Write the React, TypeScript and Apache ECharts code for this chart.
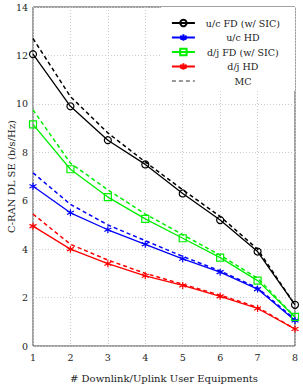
import React, { useEffect, useRef } from "react";
import * as echarts from "echarts";

const categories = [1, 2, 3, 4, 5, 6, 7, 8];
const ucFD = [12.05, 9.9, 8.5, 7.5, 6.3, 5.2, 3.9, 1.7];
const ucFDMC = [12.7, 10.3, 8.8, 7.6, 6.45, 5.35, 4.0, 1.7];
const ucHD = [6.6, 5.5, 4.8, 4.2, 3.6, 3.05, 2.35, 1.05];
const ucHDMC = [7.15, 5.85, 5.0, 4.35, 3.7, 3.1, 2.4, 1.1];
const djFD = [9.15, 7.3, 6.15, 5.25, 4.45, 3.65, 2.7, 1.2];
const djFDMC = [9.75, 7.55, 6.45, 5.45, 4.6, 3.75, 2.8, 1.2];
const djHD = [4.95, 4.0, 3.4, 2.9, 2.5, 2.05, 1.55, 0.7];
const djHDMC = [5.45, 4.2, 3.55, 3.0, 2.55, 2.1, 1.6, 0.7];
const yTicks = [0, 2, 4, 6, 8, 10, 12, 14];

const FONT = "DejaVu Serif";
const STAR = "path://M5,0L5,10M0.67,2.5L9.33,7.5M0.67,7.5L9.33,2.5";

const pts = (arr: number[]) => arr.map((v, i) => [categories[i], v]);

export default function App() {
  const ref = useRef<HTMLDivElement>(null);
  useEffect(() => {
    const chart = echarts.init(ref.current!, undefined, { renderer: "svg" });
    const solid = (name: string, data: number[], color: string, symbol: string, size: number, hollow: boolean) => ({
      name,
      type: "line",
      data: pts(data),
      symbol,
      symbolSize: size,
      showSymbol: true,
      lineStyle: { color, width: 1.3 },
      itemStyle: { color: hollow ? "rgba(255,255,255,0)" : color, borderColor: color, borderWidth: 1.2 },
      z: 3,
    });
    const dashed = (data: number[], color: string) => ({
      name: "",
      type: "line",
      data: pts(data),
      symbol: "none",
      lineStyle: { color, width: 1.5, type: [4, 3] },
      z: 2,
    });
    chart.setOption({
      animation: false,
      grid: {
        left: 33,
        right: 8,
        top: 7,
        bottom: 42,
        outerBoundsMode: "none",
        containLabel: false,
        show: true,
        borderColor: "#444",
        borderWidth: 1,
        backgroundColor: "transparent",
      },
      xAxis: {
        type: "value",
        min: 1,
        max: 8,
        interval: 1,
        name: "# Downlink/Uplink User Equipments",
        nameLocation: "middle",
        nameGap: 27,
        nameMoveOverlap: false,
        nameTextStyle: { fontFamily: FONT, fontSize: 10, color: "#222", verticalAlign: "top" },
        axisLine: { show: false },
        axisTick: { show: false },
        axisLabel: { fontFamily: FONT, fontSize: 9.5, color: "#222", margin: 6 },
        splitLine: { show: true, lineStyle: { color: "#ccc", type: [1, 2] } },
      },
      yAxis: {
        type: "value",
        min: yTicks[0],
        max: yTicks[yTicks.length - 1],
        interval: 2,
        name: "C-RAN DL SE (b/s/Hz)",
        nameLocation: "middle",
        nameGap: 17,
        nameMoveOverlap: false,
        nameTextStyle: { fontFamily: FONT, fontSize: 10, color: "#222" },
        axisLine: { show: false },
        axisTick: { show: false },
        axisLabel: { fontFamily: FONT, fontSize: 9.5, color: "#222", margin: 5 },
        splitLine: { show: true, lineStyle: { color: "#ccc", type: [1, 2] } },
      },
      legend: {
        orient: "vertical",
        right: 8,
        top: 7,
        padding: [11, 15, 5, 10],
        backgroundColor: "#fff",
        itemWidth: 23,
        itemHeight: 8,
        itemGap: 4.5,
        data: [
          "u/c FD (w/ SIC)",
          "u/c HD",
          "d/j FD (w/ SIC)",
          "d/j HD",
          { name: "MC", itemStyle: { opacity: 0 } },
        ],
        formatter: (name: string) => `{a|${name}}`,
        textStyle: {
          fontFamily: FONT,
          fontSize: 9.5,
          color: "#222",
          rich: { a: { width: 86, align: "center", fontFamily: FONT, fontSize: 9.5, color: "#222" } },
        },
      },
      series: [
        dashed(ucFDMC, "#000"),
        dashed(ucHDMC, "#0000ff"),
        dashed(djFDMC, "#00ee00"),
        dashed(djHDMC, "#ff0000"),
        solid("u/c FD (w/ SIC)", ucFD, "#000", "circle", 7, true),
        solid("u/c HD", ucHD, "#0000ff", STAR, 7, false),
        solid("d/j FD (w/ SIC)", djFD, "#00ee00", "rect", 7, true),
        solid("d/j HD", djHD, "#ff0000", STAR, 7, false),
        {
          name: "MC",
          type: "line",
          data: [],
          symbol: "none",
          showSymbol: false,
          lineStyle: { color: "#999", width: 1.5, type: [4, 3] },
          itemStyle: { color: "#999" },
        },
      ],
    });
    return () => chart.dispose();
  }, []);
  return <div ref={ref} style={{ width: 303, height: 388, position: "absolute", left: 0, top: 0 }} />;
}
